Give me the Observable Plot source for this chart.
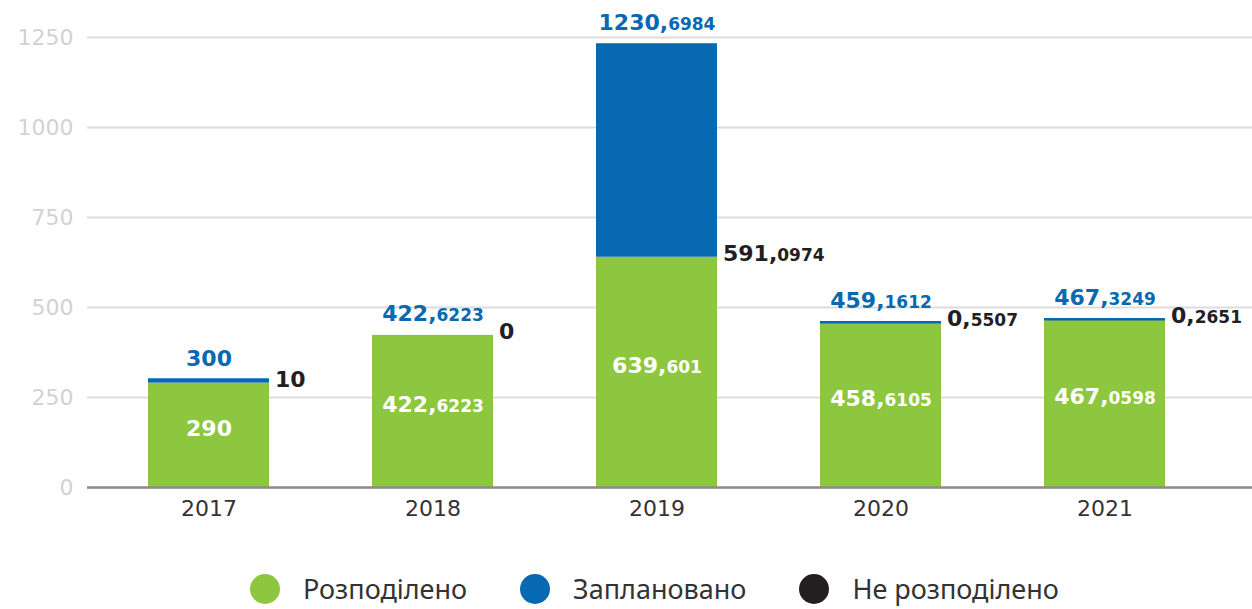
<!DOCTYPE html>
<html>
<head>
<meta charset="utf-8">
<script src="https://cdn.jsdelivr.net/npm/d3@7"></script>
<script src="https://cdn.jsdelivr.net/npm/@observablehq/plot@0.6"></script>
<style>
  html, body { margin: 0; padding: 0; background: #fff; }
  #chart { width: 1252px; height: 609px; overflow: hidden; }
  .legend { display: flex; align-items: center; height: 30px; margin-top: 14px; padding-left: 250px; font-family: "Noto Sans", sans-serif; font-size: 27px; line-height: 30px; color: #333; }
  .legend .item { display: flex; align-items: center; margin-right: 53px; }
  .legend .dot { width: 30px; height: 30px; border-radius: 50%; margin-right: 23px; flex: none; }
</style>
</head>
<body>
<div id="chart"></div>
<script>
const years = ["2017", "2018", "2019", "2020", "2021"];
const distributed = [290, 422.6223, 639.601, 458.6105, 467.0598];
const undistributed = [10, 0, 591.0974, 0.5507, 0.2651];
const planned = [300, 422.6223, 1230.6984, 459.1612, 467.3249];
const yTicks = [0, 250, 500, 750, 1000, 1250];
const seriesNames = ["Розподілено", "Заплановано", "Не розподілено"];
const seriesColors = ["#8dc63f", "#0669b2", "#231f20"];

const [green, blue, black] = seriesColors;
const fmt = v => String(v).replace(".", ",");
const rows = years.map((year, i) => ({
  year,
  distributed: distributed[i],
  undistributed: undistributed[i],
  planned: planned[i]
}));

const labelFont = "DejaVu Sans, sans-serif";

const chart = Plot.plot({
  width: 1252,
  height: 560,
  marginLeft: 87,
  marginRight: 0,
  marginTop: 37,
  marginBottom: 73,
  style: { fontFamily: labelFont, overflow: "visible", background: "#fff" },
  x: { domain: years, paddingInner: 0.46, paddingOuter: 0.33, align: 0.41, label: null },
  y: { domain: [0, 1250], label: null },
  marks: [
    Plot.gridY(yTicks, { stroke: "#dcdcdc", strokeOpacity: 1, strokeWidth: 2 }),
    Plot.axisY(yTicks, { tickSize: 0, tickPadding: 14, fontSize: 22, fill: "#d2d2d2", label: null, tickFormat: d => String(d) }),
    Plot.barY(rows, { x: "year", y: "distributed", fill: green }),
    Plot.barY(rows, { x: "year", y1: "distributed", y2: "planned", fill: blue }),
    Plot.tickY(rows.filter(d => d.undistributed > 0), { x: "year", y: "planned", stroke: blue, strokeWidth: 2.5 }),
    Plot.ruleY([0], { stroke: "#8c8c8c", strokeWidth: 2.5 }),
    Plot.axisX({ tickSize: 0, tickPadding: 13, fontSize: 22, fill: "#333", label: null }),
    Plot.text(rows, { x: "year", y: "planned", text: d => fmt(d.planned), dy: -21, fill: blue, fontSize: 22, fontWeight: "bold" }),
    Plot.text(rows, { x: "year", y: d => d.distributed / 2, text: d => fmt(d.distributed), dy: -6, fill: "#fff", fontSize: 22, fontWeight: "bold" }),
    Plot.text(rows, { x: "year", y: "distributed", text: d => fmt(d.undistributed), textAnchor: "start", dx: 66, dy: -3, fill: black, fontSize: 22, fontWeight: "bold" })
  ]
});

// smaller decimals after the comma
d3.select(chart).selectAll("text").each(function() {
  const s = this.textContent;
  if (!s.includes(",")) return;
  const [a, b] = s.split(",");
  const t = d3.select(this);
  t.text(null);
  t.append("tspan").text(a + ",");
  t.append("tspan").attr("font-size", 17).text(b);
});

const container = document.getElementById("chart");
container.appendChild(chart);

const legend = document.createElement("div");
legend.className = "legend";
seriesNames.forEach((name, i) => {
  const item = document.createElement("div");
  item.className = "item";
  const dot = document.createElement("span");
  dot.className = "dot";
  dot.style.background = seriesColors[i];
  const label = document.createElement("span");
  label.textContent = name;
  item.appendChild(dot);
  item.appendChild(label);
  legend.appendChild(item);
});
container.appendChild(legend);
</script>
</body>
</html>
